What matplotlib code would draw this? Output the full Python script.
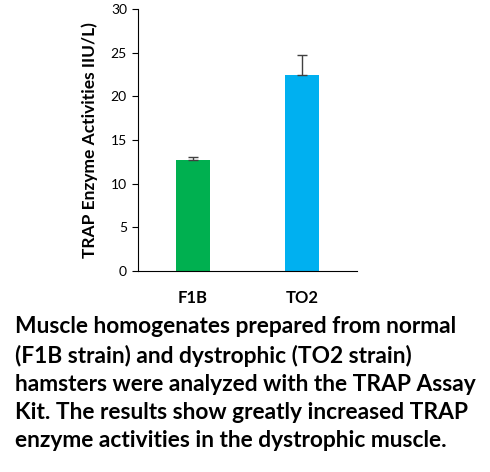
import matplotlib
matplotlib.use("Agg")
import matplotlib.pyplot as plt

# data
strains = ["F1B", "TO2"]
activity = [12.7, 22.4]
err_up = [0.35, 2.3]
bar_colors = ["#00B050", "#00B0F0"]

caption = ("Muscle homogenates prepared from normal\n"
           "(F1B strain) and dystrophic (TO2 strain)\n"
           "hamsters were analyzed with the TRAP Assay\n"
           "Kit. The results show greatly increased TRAP\n"
           "enzyme activities in the dystrophic muscle.")

plt.rcParams["font.family"] = ["Lato", "DejaVu Sans"]

fig = plt.figure(figsize=(4.9, 4.72), dpi=100)
# axes in pixel terms: left 138, right 357, top 9, bottom 271
ax = fig.add_axes([138 / 490, 1 - 271 / 472, (357 - 138) / 490, (271 - 9) / 472])

x = [0, 1]
ax.bar(x, activity, width=0.31, color=bar_colors, zorder=2)
ax.errorbar(x, activity, yerr=[[0, 0], err_up], fmt="none",
            ecolor="#404040", elinewidth=1, capsize=3.5, capthick=1, zorder=3)

ax.set_xlim(-0.5, 1.5)
ax.set_ylim(0, 30)
ax.set_yticks([0, 5, 10, 15, 20, 25, 30])
ax.set_xticks(x)
ax.set_xticklabels(strains, fontsize=12, fontweight="bold")
ax.tick_params(axis="x", length=0, pad=14)
ax.tick_params(axis="y", labelsize=10, length=4, width=0.8, pad=4)
ax.set_ylabel("TRAP Enzyme Activities IIU/L)", fontsize=12.5, fontweight="bold", labelpad=9)

for side in ["top", "right"]:
    ax.spines[side].set_visible(False)
ax.spines["left"].set_linewidth(0.8)
ax.spines["bottom"].set_linewidth(0.8)

fig.text(15 / 490, 1 - 316 / 472, caption, ha="left", va="top",
         fontsize=16.4, fontweight="bold", linespacing=1.42)

fig.savefig("out.png", dpi=100)
